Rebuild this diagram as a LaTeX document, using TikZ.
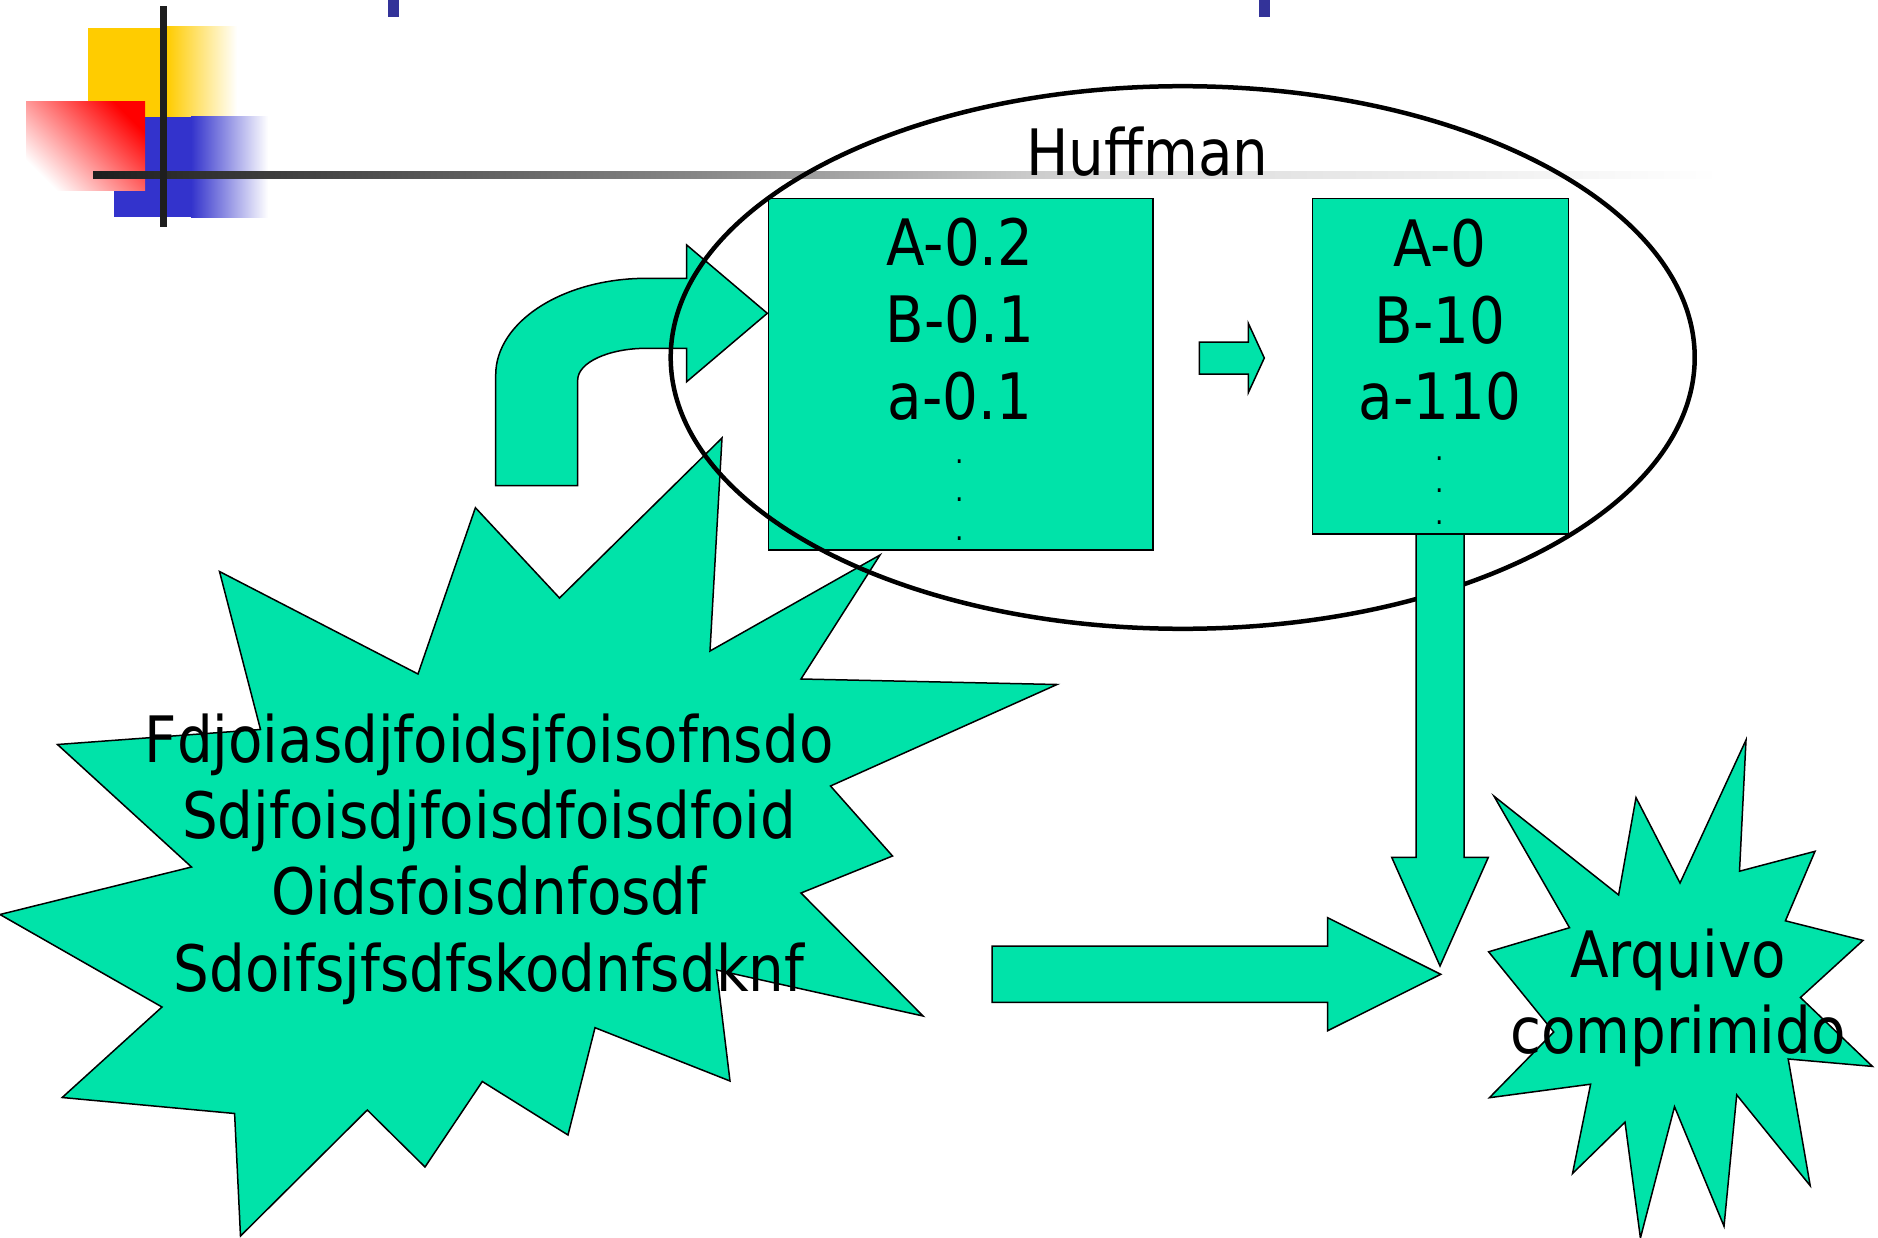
\documentclass[tikz,border=0pt]{standalone}
\usepackage{fontspec}
\setmainfont{DejaVu Sans}[FakeStretch=0.88]
\definecolor{teal}{RGB}{0,227,169}
\definecolor{ppyellow}{RGB}{255,204,0}
\definecolor{ppblue}{RGB}{51,51,204}
\definecolor{ppmark}{RGB}{51,51,153}
\definecolor{ppline}{RGB}{30,30,30}
\tikzset{
  shapefill/.style={fill=teal, draw=black, line width=1.5pt},
  bigtext/.style={inner sep=0pt, anchor=base, font=\fontsize{64}{76.5}\selectfont},
  dottext/.style={inner sep=0pt, anchor=base, font=\fontsize{30}{34}\selectfont},
  tbox/.style={shapefill, inner sep=0pt, anchor=north west}
}
\begin{document}
\begin{tikzpicture}[x=1pt,y=-1pt]
\useasboundingbox (0,0) rectangle (1878,1238);
\fill[white] (0,0) rectangle (1878,1238);
% decoration
\fill[ppyellow] (88,28) rectangle (167,117);
\shade[left color=ppyellow, right color=white] (167,27) rectangle (237,117);
\fill[ppblue] (114,117) rectangle (191,217);
\shade[left color=ppblue, right color=white] (191,117) rectangle (268,218);
\shade[top color=red, bottom color=white, shading angle=-45] (26,102) rectangle (145,191);
\shade[left color=ppline, right color=black!47] (93,172) rectangle (700,179);
\shade[left color=black!47, right color=black!15] (700,172) rectangle (1100,179);
\shade[left color=black!15, right color=white] (1100,172) rectangle (1720,179);
\fill[ppline] (160,6) rectangle (167,227);
\fill[ppmark] (387.5,0) rectangle (398.7,16.7);
\fill[ppmark] (1258.8,0) rectangle (1269.7,16.7);
% curved arrow
\draw[shapefill] (495.7,485.7) -- (495.7,375) .. controls (495.7,321.6) and (563.3,278.3) .. (646.7,278.3)
  -- (686.7,278.3) -- (686.7,245) -- (767.3,313.3) -- (686.7,381.7) -- (686.7,348.3) -- (646.7,348.3)
  .. controls (608.6,348.3) and (577.7,362.5) .. (577.7,380) -- (577.7,485.7) -- cycle;
% big star
\draw[shapefill] (722,438) -- (710,651) -- (880,555) -- (801,679) -- (1057,684.5) -- (830.5,786)
  -- (892.5,856) -- (801,893) -- (923,1016) -- (716.5,970) -- (730,1081) -- (595,1027.7)
  -- (568,1135) -- (482.3,1081.5) -- (425,1167) -- (367.3,1110) -- (240.5,1236) -- (234.6,1113.5)
  -- (62.2,1097.5) -- (162,1007) -- (0,914.5) -- (191.5,867) -- (57.5,744.5) -- (260.5,729.5)
  -- (219.5,571.5) -- (418,674) -- (475.4,507.7) -- (559.5,598) -- cycle;
\node[bigtext] (s1) at (489,762) {Fdjoiasdjfoidsjfoisofnsdo};
\node[bigtext] (s2) at (489,838) {Sdjfoisdjfoisdfoisdfoid};
\node[bigtext] (s3) at (489,914.5) {Oidsfoisdnfosdf};
\node[bigtext] (s4) at (489,991) {Sdoifsjfsdfskodnfsdknf};
% small star
\draw[shapefill] (1746,740) -- (1739.5,871.2) -- (1815,851.3) -- (1785.4,920.8) -- (1863,940.4)
  -- (1800.4,997.5) -- (1872.4,1066.4) -- (1788.2,1059) -- (1810.2,1185.7) -- (1736.7,1094.9)
  -- (1724,1226.2) -- (1674.5,1106.7) -- (1640.4,1238) -- (1625,1122.2) -- (1572.5,1173.5)
  -- (1590.6,1084.2) -- (1489.4,1097.7) -- (1553.7,1032) -- (1488.6,951.8) -- (1569.5,927.7)
  -- (1494,796.2) -- (1618.6,894.9) -- (1636,797.6) -- (1680,883) -- cycle;
\node[bigtext] (c1) at (1678,977.5) {Arquivo};
\node[bigtext] (c2) at (1678,1053.5) {comprimido};
% right arrow
\draw[shapefill] (992,946) -- (1327.7,946) -- (1327.7,917.7) -- (1440.7,974.3) -- (1327.7,1030.7)
  -- (1327.7,1002.3) -- (992,1002.3) -- cycle;
% box 1
\node[tbox, minimum width=384.5pt, minimum height=351.8pt] (box1) at (767.7,197.6) {};
\node[bigtext] (b1a) at (960,266) {A-0.2};
\node[bigtext] (b1b) at (960,342.5) {B-0.1};
\node[bigtext] (b1c) at (960,419) {a-0.1};
\node[dottext] (b1d1) at (960,463) {.};
\node[dottext] (b1d2) at (960,501.3) {.};
\node[dottext] (b1d3) at (960,540.3) {.};
% small arrow
\draw[shapefill] (1199.3,342) -- (1248.3,342) -- (1248.3,323.3) -- (1264.3,358) -- (1248.3,392.7)
  -- (1248.3,374) -- (1199.3,374) -- cycle;
% ellipse
\draw[line width=4.5pt] (1182.7,357.5) ellipse [x radius=512, y radius=271.3];
% down arrow
\draw[shapefill] (1416,533) -- (1464,533) -- (1464,857.3) -- (1488.3,857.3) -- (1440,966)
  -- (1391.7,857.3) -- (1416,857.3) -- cycle;
% box 2
\node[tbox, minimum width=256.3pt, minimum height=335.6pt] (box2) at (1311.5,197.6) {};
\node[bigtext] (b2a) at (1440,266.5) {A-0};
\node[bigtext] (b2b) at (1440,343) {B-10};
\node[bigtext] (b2c) at (1440,419) {a-110};
\node[dottext] (b2d1) at (1440,460) {.};
\node[dottext] (b2d2) at (1440,492.3) {.};
\node[dottext] (b2d3) at (1440,524) {.};
% title
\node[bigtext] (huff) at (1147.5,176) {Huffman};
\end{tikzpicture}
\end{document}
